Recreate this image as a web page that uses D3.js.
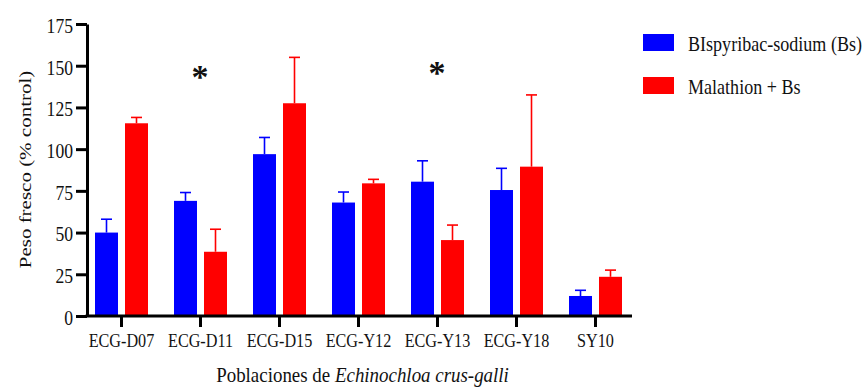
<!DOCTYPE html>
<html>
<head>
<meta charset="utf-8">
<script src="https://cdn.jsdelivr.net/npm/d3@7"></script>
<style>
  html, body { margin: 0; padding: 0; background: #fff; }
  svg { display: block; }
  text { font-family: "Liberation Serif", "Times New Roman", serif; fill: #111; }
</style>
</head>
<body>
<div id="chart"></div>
<script>
// Fresh weight (% of untreated control) per Echinochloa crus-galli population
const populations = ["ECG-D07", "ECG-D11", "ECG-D15", "ECG-Y12", "ECG-Y13", "ECG-Y18", "SY10"];
const seriesNames = ["BIspyribac-sodium (Bs)", "Malathion + Bs"];
const bsMean  = [50, 69, 97, 68, 80.5, 75.5, 12];
const bsErr   = [8, 5, 10, 6.3, 12.5, 13, 3.4];
const malMean = [115.5, 38.5, 127.5, 79.5, 45.5, 89.5, 23.5];
const malErr  = [3.5, 13.5, 27.5, 2.4, 9, 43, 4];
const yTicks  = [0, 25, 50, 75, 100, 125, 150, 175];
// populations with a significant difference between treatments
const significant = [
  { population: "ECG-D11", y: 148 },
  { population: "ECG-Y13", y: 150.5 }
];

const colors = ["#0000ff", "#ff0000"];
const W = 867, H = 387;
const squeeze = 0.84; // narrow serif lettering

const svg = d3.select("#chart").append("svg")
  .attr("width", W).attr("height", H);

const axisLeft = 87, axisRight = 632;
const y = d3.scaleLinear().domain([0, 175]).range([316, 24]);
const x = d3.scalePoint().domain(populations).range([121, 595]);
const sub = d3.scaleBand().domain([0, 1]).range([-26, 27]).paddingInner(7 / 30).paddingOuter(0);

const rows = populations.map((p, i) => ({
  population: p,
  values: [
    { s: 0, mean: bsMean[i], err: bsErr[i] },
    { s: 1, mean: malMean[i], err: malErr[i] }
  ]
}));

// bars
const groups = svg.append("g").selectAll("g").data(rows).join("g")
  .attr("transform", d => `translate(${x(d.population)},0)`);

groups.selectAll("rect").data(d => d.values).join("rect")
  .attr("x", d => sub(d.s))
  .attr("width", sub.bandwidth())
  .attr("y", d => y(d.mean))
  .attr("height", d => y(0) - y(d.mean))
  .attr("fill", d => colors[d.s]);

// upper error bars
const errG = groups.selectAll("g.err").data(d => d.values).join("g").attr("class", "err")
  .attr("stroke", d => colors[d.s]).attr("stroke-width", 1.6);
errG.append("line")
  .attr("x1", d => sub(d.s) + sub.bandwidth() / 2)
  .attr("x2", d => sub(d.s) + sub.bandwidth() / 2)
  .attr("y1", d => y(d.mean))
  .attr("y2", d => y(d.mean + d.err));
errG.append("line")
  .attr("x1", d => sub(d.s) + sub.bandwidth() / 2 - 5.5)
  .attr("x2", d => sub(d.s) + sub.bandwidth() / 2 + 5.5)
  .attr("y1", d => y(d.mean + d.err))
  .attr("y2", d => y(d.mean + d.err));

// y axis
const gy = svg.append("g").attr("transform", `translate(${axisLeft},0)`)
  .call(d3.axisLeft(y).tickValues(yTicks).tickSize(11).tickSizeOuter(0).tickFormat(d3.format("d")));
gy.select(".domain").attr("stroke", "#000").attr("stroke-width", 3);
gy.selectAll(".tick line").attr("stroke", "#000").attr("stroke-width", 3);
gy.selectAll(".tick text")
  .attr("x", 0).attr("dy", "0.4em")
  .attr("transform", `translate(-14,0) scale(${squeeze},1)`)
  .style("font-size", "21px").style("font-family", "Liberation Serif").attr("fill", "#111");

// x axis
const gx = svg.append("g").attr("transform", `translate(0,${y(0)})`)
  .call(d3.axisBottom(x).tickSize(11).tickSizeOuter(0));
gx.select(".domain").remove();
gx.append("line")
  .attr("x1", axisLeft - 1.5).attr("x2", axisRight)
  .attr("stroke", "#000").attr("stroke-width", 3);
gx.selectAll(".tick line").attr("stroke", "#000").attr("stroke-width", 3);
gx.selectAll(".tick text")
  .attr("y", 0).attr("dy", 0)
  .attr("transform", `translate(0,31) scale(0.83,1)`)
  .style("font-size", "19.5px").style("font-family", "Liberation Serif").attr("fill", "#111");

// axis titles
svg.append("text")
  .attr("transform", `translate(31,169.5) rotate(-90) scale(1,${squeeze})`)
  .attr("text-anchor", "middle")
  .style("font-size", "21px")
  .text("Peso fresco (% control)");

const xt = svg.append("text")
  .attr("transform", `translate(362.5,382) scale(0.88,1)`)
  .attr("text-anchor", "middle")
  .style("font-size", "21.5px");
xt.append("tspan").text("Poblaciones de ");
xt.append("tspan").style("font-style", "italic").text("Echinochloa crus-galli");

// significance marks
svg.selectAll("text.sig").data(significant).join("text").attr("class", "sig")
  .attr("x", d => x(d.population))
  .attr("y", d => y(d.y))
  .attr("dy", "0.55em")
  .attr("text-anchor", "middle")
  .style("font-family", "Liberation Serif")
  .style("font-weight", "bold")
  .style("font-size", "34px")
  .attr("fill", "#000")
  .text("*");

// legend
const legend = svg.append("g").selectAll("g").data(seriesNames).join("g")
  .attr("transform", (d, i) => `translate(643,${34 + i * 43})`);
legend.append("rect")
  .attr("width", 31).attr("height", 17)
  .attr("fill", (d, i) => colors[i]);
legend.append("text")
  .attr("transform", "translate(45,17) scale(0.86,1)")
  .style("font-size", "21px")
  .text(d => d);
</script>
</body>
</html>
